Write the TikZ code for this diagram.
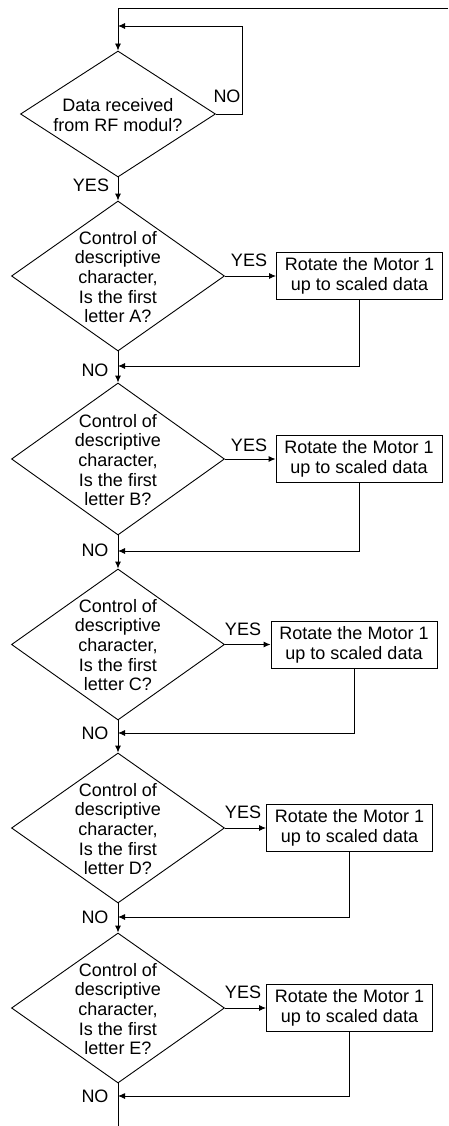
\documentclass[tikz,border=0pt]{standalone}
\usepackage{fontspec}
\setmainfont{Liberation Sans}
\usetikzlibrary{shapes.geometric,arrows.meta}
\tikzset{
  ln/.style={line width=0.9pt, draw=black},
  arr/.style={ln, -{Latex[length=7pt,width=6pt]}},
  dia/.style={shape=diamond, ln, inner sep=0pt, minimum width=213pt, minimum height=150pt},
  txt/.style={align=center, inner sep=0pt, font=\fontsize{18}{19.7}\selectfont},
  lbl/.style={inner sep=0pt, font=\fontsize{18}{19.7}\selectfont},
  box/.style={ln, rectangle, minimum width=166pt, minimum height=47pt, inner sep=0pt, align=center, font=\fontsize{18}{19.7}\selectfont}
}
\begin{document}
\begin{tikzpicture}[x=1pt,y=-1pt]
\useasboundingbox (0,0) rectangle (448,1126);
% first decision
\node[dia, minimum width=195pt, minimum height=126pt] (d1) at (118,114) {};
\node[txt] (t1) at (118,115) {Data received\\from RF modul?};
\coordinate (top1) at (448,8);
\coordinate (top2) at (118,8);
\coordinate (j0) at (118,26);
\draw[arr] (top1) -- (top2) -- (d1.north);
\draw[arr] (d1.east) -- ++(26,0) |- (j0);
\node[lbl] (no0) at (227,96) {NO};
\node[lbl] (yes0) at (91,185) {YES};
% decisions
\node[dia] (d2) at (118,276) {};
\node[txt] (t2) at (118,277) {Control of\\descriptive\\character,\\Is the first\\letter A?};
\node[dia, minimum height=152pt] (d3) at (118,459) {};
\node[txt] (t3) at (118,460) {Control of\\descriptive\\character,\\Is the first\\letter B?};
\node[dia, minimum height=151pt] (d4) at (118,644.5) {};
\node[txt] (t4) at (118,645) {Control of\\descriptive\\character,\\Is the first\\letter C?};
\node[dia] (d5) at (118,828) {};
\node[txt] (t5) at (118,829) {Control of\\descriptive\\character,\\Is the first\\letter D?};
\node[dia] (d6) at (118,1008) {};
\node[txt] (t6) at (118,1009) {Control of\\descriptive\\character,\\Is the first\\letter E?};
% boxes
\node[box] (b2) at (359.5,276) {Rotate the Motor 1\\up to scaled data};
\node[box] (b3) at (359,459) {Rotate the Motor 1\\up to scaled data};
\node[box] (b4) at (354,644.5) {Rotate the Motor 1\\up to scaled data};
\node[box] (b5) at (349.5,828) {Rotate the Motor 1\\up to scaled data};
\node[box] (b6) at (349.5,1008) {Rotate the Motor 1\\up to scaled data};
% join points
\coordinate (j2) at (118,366);
\coordinate (j3) at (118,551);
\coordinate (j4) at (118,733);
\coordinate (j5) at (118,917);
\coordinate (j6) at (118,1096);
\coordinate (endp) at (118,1126);
% vertical flow
\draw[arr] (d1.south) -- (d2.north);
\draw[arr] (d2.south) -- (d3.north);
\draw[arr] (d3.south) -- (d4.north);
\draw[arr] (d4.south) -- (d5.north);
\draw[arr] (d5.south) -- (d6.north);
\draw[ln] (d6.south) -- (endp);
% yes branches
\draw[arr] (d2.east) -- (b2.west);
\draw[arr] (d3.east) -- (b3.west);
\draw[arr] (d4.east) -- (b4.west);
\draw[arr] (d5.east) -- (b5.west);
\draw[arr] (d6.east) -- (b6.west);
% returns
\draw[arr] (b2.south) |- (j2);
\draw[arr] (b3.south) |- (j3);
\draw[arr] (b4.south) |- (j4);
\draw[arr] (b5.south) |- (j5);
\draw[arr] (b6.south) |- (j6);
% labels
\node[lbl] (y2) at (249,260) {YES};
\node[lbl] (y3) at (249,445) {YES};
\node[lbl] (y4) at (243,629) {YES};
\node[lbl] (y5) at (243,812) {YES};
\node[lbl] (y6) at (243,992) {YES};
\node[lbl] (n2) at (95,370) {NO};
\node[lbl] (n3) at (95,550) {NO};
\node[lbl] (n4) at (95,733) {NO};
\node[lbl] (n5) at (95,917) {NO};
\node[lbl] (n6) at (95,1096) {NO};
\end{tikzpicture}
\end{document}
